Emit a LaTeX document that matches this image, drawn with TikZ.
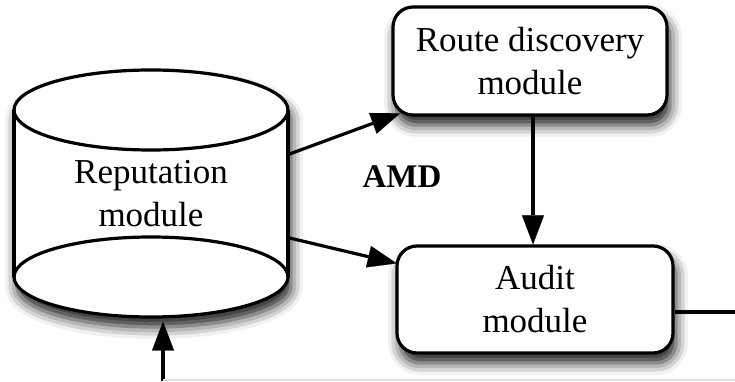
\documentclass[tikz,border=0pt]{standalone}
\usepackage{fontspec}
\setmainfont{Liberation Serif}
\usetikzlibrary{arrows.meta,shadows.blur}
\begin{document}
\begin{tikzpicture}[x=1pt,y=1pt,
  line width=3.2pt,
  dropshade/.style={blur shadow={shadow xshift=3pt, shadow yshift=-10pt, shadow blur radius=12pt, shadow opacity=90}},
  bigtext/.style={font=\fontsize{35}{43}\selectfont, align=center},
  modbox/.style={draw, fill=white, rounded corners=20pt, dropshade, bigtext, inner sep=0pt},
  link/.style={draw=black, -{Triangle[length=29pt,width=22pt,line width=0.1pt,fill=black,color=black]}}
]
\useasboundingbox (0,0) rectangle (735,381);

% reputation store drawn as a cylinder with both ends as full ellipses
\path[dropshade, fill=white] (14,271) -- (14,104)
  arc[start angle=180, end angle=360, x radius=137, y radius=40] -- (288,271)
  arc[start angle=0, end angle=180, x radius=137, y radius=40] -- cycle;
\draw (14,271) -- (14,104) (288,104) -- (288,271);
\draw (151,271) ellipse[x radius=137, y radius=40];
\draw (151,104) ellipse[x radius=137, y radius=40];
\node[bigtext, inner sep=0pt, minimum width=274pt, minimum height=167pt] (rep) at (151,187.5) {Reputation\\module};

% modules
\node[modbox, minimum width=274pt, minimum height=108pt] (route) at (530,320) {Route discovery\\module};
\node[modbox, minimum width=276pt, minimum height=107pt] (audit) at (535,81.5) {Audit\\module};

\node[font=\fontsize{33}{40}\selectfont\bfseries] (amd) at (402,204) {AMD};

% connectors
\draw[link] ([yshift=39.5pt]rep.east) -- ([xshift=8.7pt,yshift=3.3pt]route.south west);
\draw[link] ([yshift=-44.5pt]rep.east) -- ([xshift=1.3pt,yshift=-19pt]audit.north west);
\coordinate (rd) at ([xshift=3pt]route.south);
\draw[link] (rd) -- (rd |- audit.north);

\coordinate (outR) at (735,69);
\draw ([yshift=-12.5pt]audit.east) -- (outR);

\coordinate (inB) at (163,0);
\coordinate (inT) at (163,59.5);
\draw[link] (inB) -- (inT);
\coordinate (feedL) at (163,1);
\coordinate (feedR) at (735,1);
\draw[gray!25, line width=1.2pt] (feedL) -- (feedR);
\end{tikzpicture}
\end{document}
